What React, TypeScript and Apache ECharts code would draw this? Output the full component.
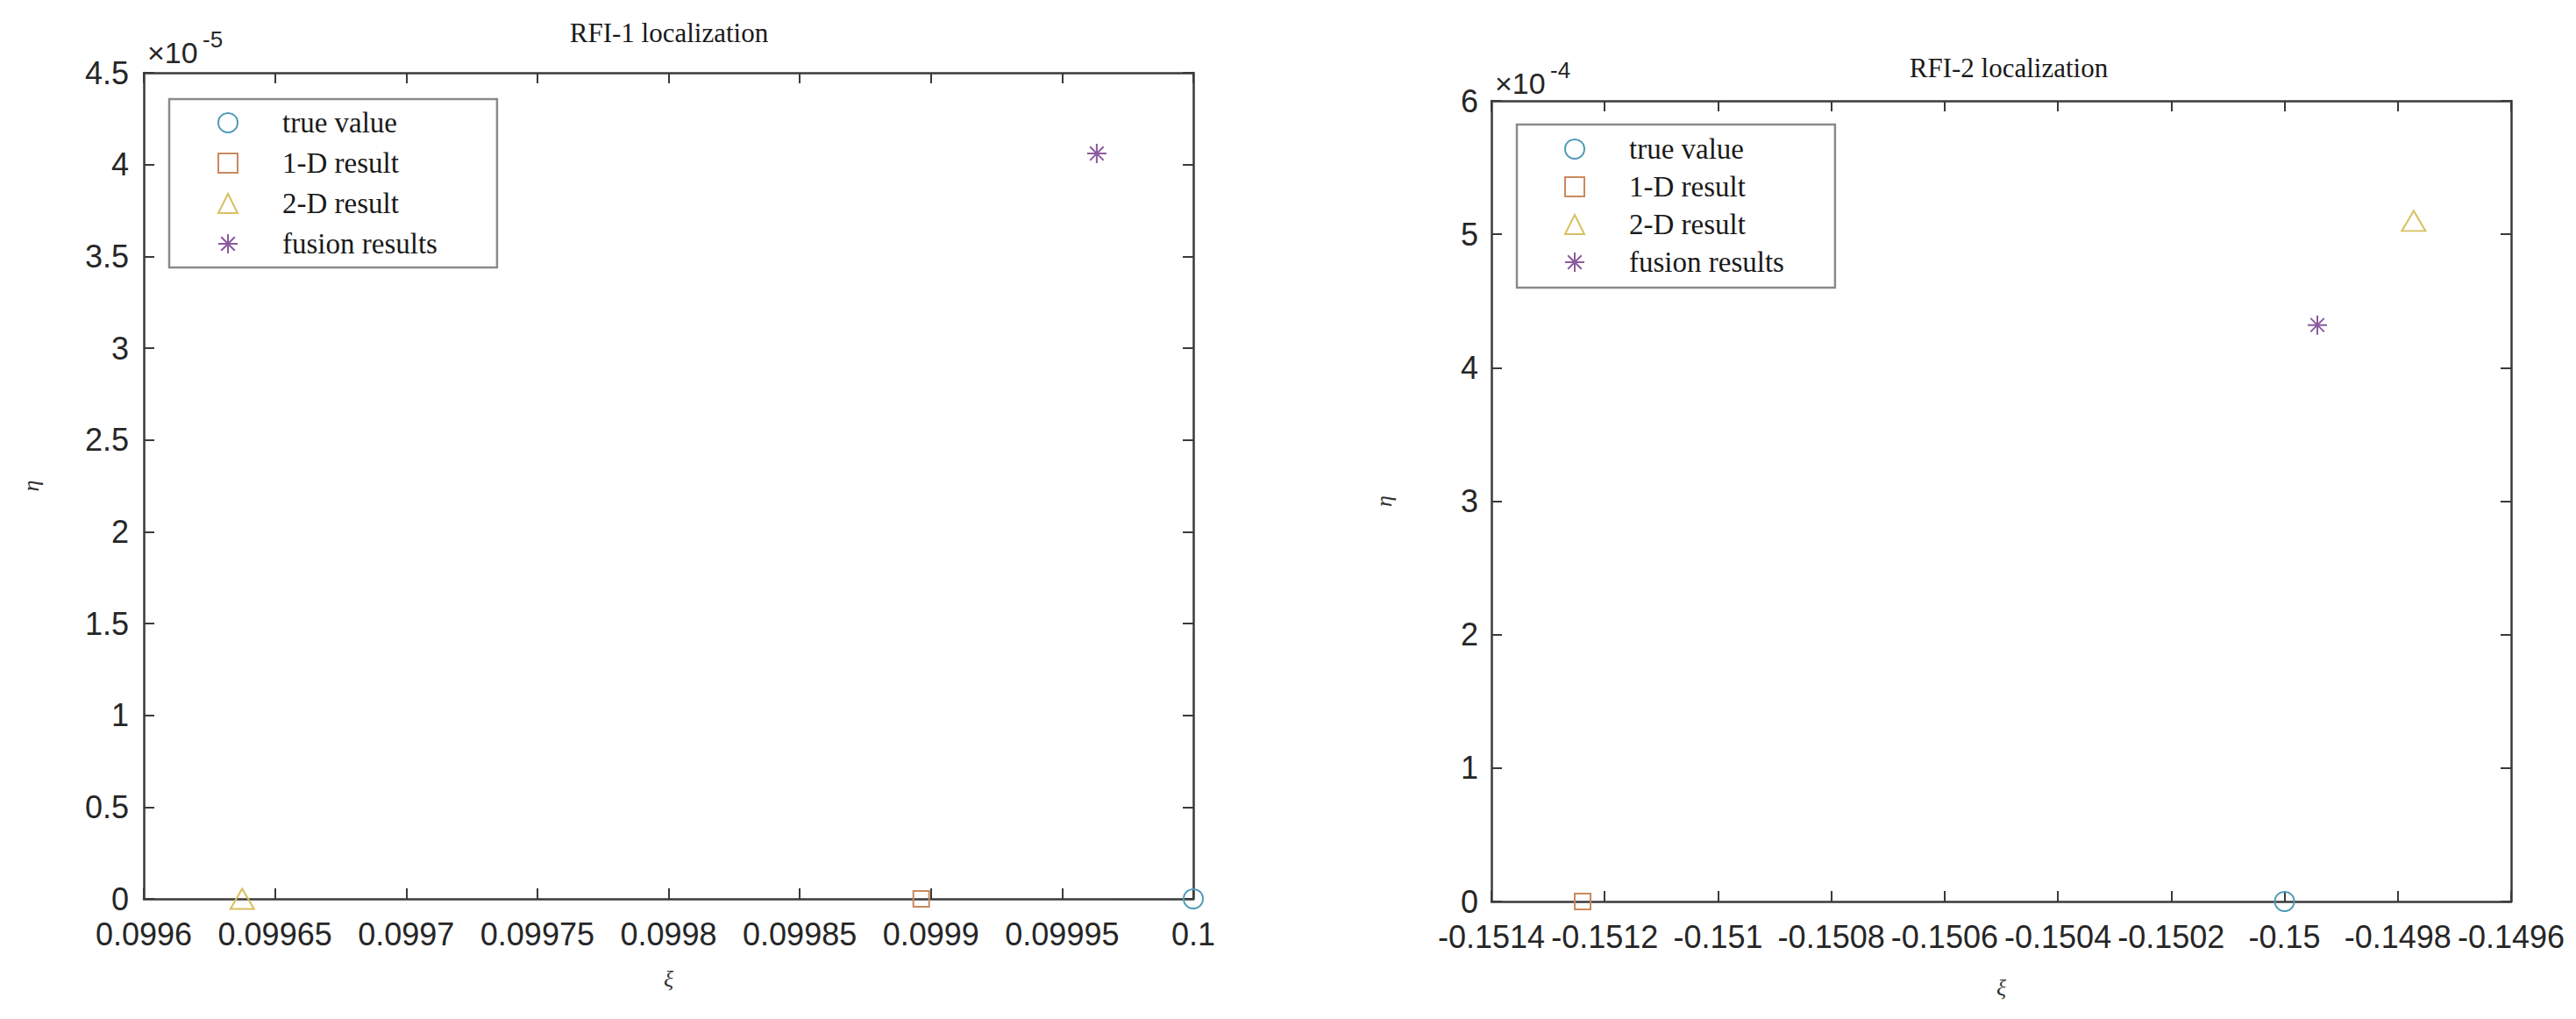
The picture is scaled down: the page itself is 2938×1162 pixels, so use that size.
import React, { useEffect, useRef } from 'react';
import * as echarts from 'echarts';

// ---------- data ----------
const seriesNames = ['true value', '1-D result', '2-D result', 'fusion results'];

// RFI-1 localization (xi, eta)
const rfi1TrueValue = [[0.1, 0]];
const rfi1OneD = [[0.0998963, 0]];
const rfi1TwoD = [[0.0996375, 0]];
const rfi1Fusion = [[0.0999632, 4.06e-5]];

// RFI-2 localization (xi, eta)
const rfi2TrueValue = [[-0.15, 0]];
const rfi2OneD = [[-0.151239, 0]];
const rfi2TwoD = [[-0.149772, 5.1e-4]];
const rfi2Fusion = [[-0.149942, 4.32e-4]];

// axis ticks
const rfi1XTicks = [0.0996, 0.09965, 0.0997, 0.09975, 0.0998, 0.09985, 0.0999, 0.09995, 0.1];
const rfi1YTicks = [0, 0.5e-5, 1e-5, 1.5e-5, 2e-5, 2.5e-5, 3e-5, 3.5e-5, 4e-5, 4.5e-5];
const rfi2XTicks = [-0.1514, -0.1512, -0.151, -0.1508, -0.1506, -0.1504, -0.1502, -0.15, -0.1498, -0.1496];
const rfi2YTicks = [0, 1e-4, 2e-4, 3e-4, 4e-4, 5e-4, 6e-4];
const rfi1Exponent = '-5';
const rfi2Exponent = '-4';
const rfi1Scale = 1e-5;
const rfi2Scale = 1e-4;

// ---------- styles ----------
const COLORS = ['#4f9bb8', '#c98a5e', '#d8c060', '#8a5a9c'];
const ASTERISK = 'path://M10,0L10,20M0,10L20,10M2.93,2.93L17.07,17.07M2.93,17.07L17.07,2.93';
const SYMBOLS = ['circle', 'rect', 'triangle', ASTERISK];
const SIZES: any[] = [22, 18, [27, 23], 22];
const SANS = '"Liberation Sans", Arial, sans-serif';
const SERIF = '"Liberation Serif", "Times New Roman", serif';
const AXIS_COLOR = '#3a3a3a';
const LABEL_COLOR = '#262626';

const fmtX = (v: number) => String(parseFloat(v.toFixed(6)));

function axisPair(ticks: number[], gridIndex: number, labelMargin: number, fmt: (v: number) => string, isX: boolean, nameGap: number, name: string) {
  const min = ticks[0];
  const max = ticks[ticks.length - 1];
  const interval = ticks[1] - ticks[0];
  const common = {
    gridIndex,
    type: 'value',
    min,
    max,
    interval,
    splitLine: { show: false },
    axisLine: { show: true, onZero: false, lineStyle: { color: AXIS_COLOR, width: 2.5 } },
    axisTick: { show: true, inside: true, length: 12, lineStyle: { color: AXIS_COLOR, width: 2 } },
  };
  const main = {
    ...common,
    position: isX ? 'bottom' : 'left',
    name,
    nameLocation: 'middle',
    nameGap,
    nameRotate: isX ? 0 : 90,
    nameTextStyle: { fontFamily: SERIF, fontStyle: 'italic', fontSize: 26, color: '#333' },
    axisLabel: {
      show: true,
      margin: labelMargin,
      fontFamily: SANS,
      fontSize: 36,
      color: LABEL_COLOR,
      formatter: (v: number) => fmt(v),
    },
  };
  const mirror = {
    ...common,
    position: isX ? 'top' : 'right',
    axisLabel: { show: false },
  };
  return [main, mirror];
}

function makeSeries(datasets: number[][][], xAxisIndex: number, yAxisIndex: number) {
  return datasets.map((data, i) => ({
    type: 'scatter',
    name: seriesNames[i],
    xAxisIndex,
    yAxisIndex,
    data,
    clip: false,
    symbol: SYMBOLS[i],
    symbolSize: SIZES[i],
    itemStyle: {
      color: i === 3 ? COLORS[i] : 'rgba(255,255,255,0)',
      borderColor: COLORS[i],
      borderWidth: 2,
      opacity: 1,
    },
    emphasis: { disabled: true },
    z: 5,
  }));
}

function legendAt(left: number, top: number, padding: number[], itemGap: number) {
  return {
    show: true,
    orient: 'vertical',
    left,
    top,
    padding,
    itemGap,
    itemWidth: 22,
    itemHeight: 22,
    selectedMode: false,
    backgroundColor: '#ffffff',
    borderColor: '#8a8a8a',
    borderWidth: 2.5,
    borderRadius: 0,
    data: seriesNames,
    textStyle: {
      fontFamily: SERIF,
      fontSize: 33,
      lineHeight: 34,
      color: '#1a1a1a',
      padding: [0, 0, 0, 46],
    },
  };
}

export default function App() {
  const ref = useRef<HTMLDivElement>(null);
  useEffect(() => {
    if (!ref.current) return;
    const chart = echarts.init(ref.current, undefined, { renderer: 'svg' });

    const [x0, x0m] = axisPair(rfi1XTicks, 0, 22, fmtX, true, 78, 'ξ');
    const [y0, y0m] = axisPair(rfi1YTicks, 0, 17, (v) => String(parseFloat((v / rfi1Scale).toFixed(4))), false, 116, 'η');
    const [x1, x1m] = axisPair(rfi2XTicks, 1, 22, fmtX, true, 85, 'ξ');
    const [y1, y1m] = axisPair(rfi2YTicks, 1, 15, (v) => String(parseFloat((v / rfi2Scale).toFixed(4))), false, 110, 'η');

    const option: any = {
      animation: false,
      backgroundColor: '#ffffff',
      grid: [
        { left: 164, top: 83, width: 1197, height: 942, containLabel: false },
        { left: 1701, top: 115, width: 1163, height: 913, containLabel: false },
      ],
      xAxis: [x0, x0m, x1, x1m],
      yAxis: [y0, y0m, y1, y1m],
      legend: [
        legendAt(193, 113, [10, 68, 10, 55], 12),
        legendAt(1730, 142, [11, 58, 12, 54], 9),
      ],
      series: [
        ...makeSeries([rfi1TrueValue, rfi1OneD, rfi1TwoD, rfi1Fusion], 0, 0),
        ...makeSeries([rfi2TrueValue, rfi2OneD, rfi2TwoD, rfi2Fusion], 2, 2),
      ],
      graphic: [
        {
          type: 'text', x: 763, y: 37, z: 10,
          style: { text: 'RFI-1 localization', fontFamily: SERIF, fontSize: 31, fill: '#1a1a1a', align: 'center', verticalAlign: 'middle' },
        },
        {
          type: 'text', x: 2291, y: 77, z: 10,
          style: { text: 'RFI-2 localization', fontFamily: SERIF, fontSize: 31, fill: '#1a1a1a', align: 'center', verticalAlign: 'middle' },
        },
        {
          type: 'text', x: 168, y: 60, z: 10,
          style: { text: '×10', fontFamily: SANS, fontSize: 34, fill: LABEL_COLOR, align: 'left', verticalAlign: 'middle' },
        },
        {
          type: 'text', x: 231, y: 45, z: 10,
          style: { text: rfi1Exponent, fontFamily: SANS, fontSize: 26, fill: LABEL_COLOR, align: 'left', verticalAlign: 'middle' },
        },
        {
          type: 'text', x: 1705, y: 95, z: 10,
          style: { text: '×10', fontFamily: SANS, fontSize: 34, fill: LABEL_COLOR, align: 'left', verticalAlign: 'middle' },
        },
        {
          type: 'text', x: 1768, y: 80, z: 10,
          style: { text: rfi2Exponent, fontFamily: SANS, fontSize: 26, fill: LABEL_COLOR, align: 'left', verticalAlign: 'middle' },
        },
      ],
    };
    chart.setOption(option);
    return () => chart.dispose();
  }, []);

  return (
    <div
      ref={ref}
      style={{ position: 'absolute', left: 0, top: 0, width: 2938, height: 1162, background: '#fff' }}
    />
  );
}
